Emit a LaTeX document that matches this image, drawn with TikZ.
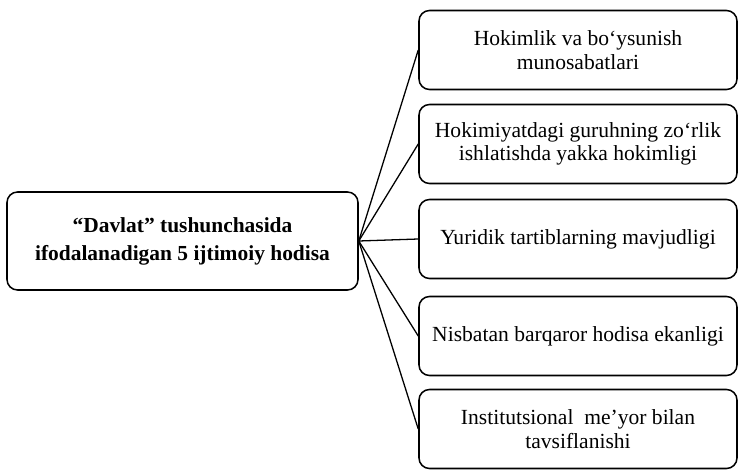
\documentclass[tikz,border=0pt]{standalone}
\usepackage{fontspec}
\setmainfont{Liberation Serif}
\usetikzlibrary{positioning}

\begin{document}
\begin{tikzpicture}[
  box/.style={draw,line width=1.3pt,rounded corners=9pt,align=center,
    inner sep=0pt},
  mainbox/.style={box,minimum width=10.53cm,minimum height=2.94cm,
    font=\fontsize{18.3}{24}\selectfont\bfseries},
  itembox/.style={box,minimum width=9.54cm,minimum height=2.37cm,
    font=\fontsize{18.4}{20}\selectfont},
  link/.style={line width=1.1pt}]
\useasboundingbox (0,0) rectangle (22.2,14.1);
\node[mainbox] (main) at (5.475,6.87) {``Davlat'' tushunchasida\\ifodalanadigan 5 ijtimoiy hodisa};
\node[itembox] (r1) at (17.34,12.60) {Hokimlik va bo‘ysunish\\munosabatlari};
\node[itembox] (r2) at (17.34,9.78) {Hokimiyatdagi guruhning zo‘rlik\\ishlatishda yakka hokimligi};
\node[itembox] (r3) at (17.34,6.93) {Yuridik tartiblarning mavjudligi};
\node[itembox] (r4) at (17.34,4.02) {Nisbatan barqaror hodisa ekanligi};
\node[itembox] (r5) at (17.34,1.23) {Institutsional\ \ me’yor bilan\\tavsiflanishi};
\foreach \i in {1,...,5}
  \draw[link] (main.east) -- (r\i.west);
\end{tikzpicture}
\end{document}
